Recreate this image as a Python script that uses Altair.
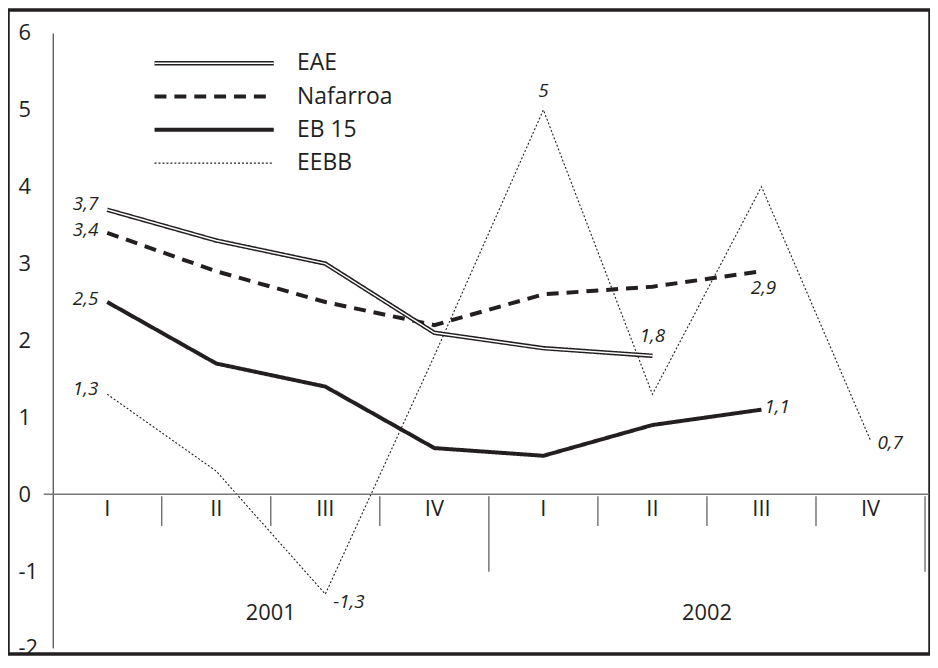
import altair as alt
import pandas as pd

# ---------------- data ----------------
quarters = ["I", "II", "III", "IV", "I", "II", "III", "IV"]
years = ["2001", "2002"]
series_names = ["EAE", "Nafarroa", "EB 15", "EEBB"]
eae = [3.7, 3.3, 3.0, 2.1, 1.9, 1.8, None, None]
nafarroa = [3.4, 2.9, 2.5, 2.2, 2.6, 2.7, 2.9, None]
eb15 = [2.5, 1.7, 1.4, 0.6, 0.5, 0.9, 1.1, None]
eebb = [1.3, 0.3, -1.3, 1.8, 5.0, 1.3, 4.0, 0.7]
y_ticks = [-2, -1, 0, 1, 2, 3, 4, 5, 6]

rows = []
for name, vals in zip(series_names, [eae, nafarroa, eb15, eebb]):
    for i, v in enumerate(vals):
        if v is not None:
            rows.append({"series": name, "q": i, "value": v})
df = pd.DataFrame(rows)

qdf = pd.DataFrame({"q": list(range(len(quarters))), "label": quarters})
bdf = pd.DataFrame({"b": list(range(1, len(quarters) + 1))})
ydf = pd.DataFrame({"k": list(range(len(years))), "year": years})
zdf = pd.DataFrame({"x0": [0], "x1": [len(quarters)]})

# ---------------- style ----------------
FONT = "Open Sans"
INK = "#231f20"
W, H = 928, 648

x_scale = alt.Scale(domain=[0, 8], range=[45, 923], nice=False, zero=False)
y_scale = alt.Scale(domain=[-2, 6], range=[642, 23], nice=False, zero=False)

y_axis = alt.Axis(
    values=y_ticks, offset=-45, ticks=False, tickSize=0, grid=False, title=None,
    domainColor=INK, domainWidth=1, labelFont=FONT, labelFontSize=22,
    labelColor=INK, labelAlign="left", labelPadding=35, labelFlush=False,
    labelOverlap=False,
    labelExpr="replace(format(datum.value, 'd'), '\u2212', '-')",
)

X = alt.X("pos:Q", scale=x_scale, axis=None)
Y = alt.Y("value:Q", scale=y_scale, axis=y_axis)

LEG_X, LEG_Y = 196, 42
sym_path = "M-12,0H12"
LEG_FS = 23

main_legend = alt.Legend(
    orient="none", legendX=LEG_X, legendY=LEG_Y, title=None,
    symbolType=sym_path, symbolSize=100, symbolStrokeColor=INK,
    symbolFillColor="transparent", labelFont=FONT, labelFontSize=LEG_FS,
    labelColor=INK, labelOffset=72, rowPadding=9.5, zindex=0,
)
white_legend = alt.Legend(
    orient="none", legendX=LEG_X, legendY=LEG_Y, title=None,
    symbolType=sym_path, symbolSize=100, symbolStrokeWidth=1.5,
    symbolFillColor="transparent", labelFont=FONT, labelFontSize=LEG_FS,
    labelOpacity=0, labelOffset=72, rowPadding=9.5, zindex=1,
)

dash = alt.StrokeDash(
    "series:N",
    scale=alt.Scale(domain=series_names, range=[[1, 0], [12, 8], [1, 0], [2, 2]]),
    legend=main_legend,
)
width_enc = alt.StrokeWidth(
    "series:N",
    scale=alt.Scale(type="ordinal", domain=series_names, range=[4.5, 4, 4, 1.1]),
    legend=main_legend,
)

base = alt.Chart(df).transform_calculate(pos="datum.q + 0.5")

lines = base.mark_line(color=INK, strokeCap="butt", strokeJoin="miter").encode(
    x=X, y=Y, strokeDash=dash, strokeWidth=width_enc, detail="series:N"
)
eae_inner = base.transform_filter(alt.datum.series == "EAE").mark_line(
    strokeWidth=1.5, strokeCap="butt"
).encode(
    x=X, y=Y,
    stroke=alt.Stroke("series:N", scale=alt.Scale(domain=["EAE"], range=["white"]),
                      legend=white_legend),
)

# zero line
zero_line = alt.Chart(zdf).mark_rule(color="#777777", strokeWidth=1.5, xOffset=-9, x2Offset=4).encode(
    x=alt.X("x0:Q", scale=x_scale, axis=None), x2="x1:Q",
    y=alt.datum(0),
)

# separators
sep = alt.Chart(bdf)
sep_short = sep.transform_filter("datum.b % 4 != 0").mark_rule(
    color="#555555", strokeWidth=1.2, yOffset=2, y2Offset=32
).encode(x=alt.X("b:Q", scale=x_scale, axis=None), y=alt.datum(0), y2=alt.datum(0))
sep_long = sep.transform_filter("datum.b % 4 == 0").mark_rule(
    color="#555555", strokeWidth=1.2, yOffset=2, y2Offset=78
).encode(x=alt.X("b:Q", scale=x_scale, axis=None), y=alt.datum(0), y2=alt.datum(0))

# quarter labels
q_text = alt.Chart(qdf).transform_calculate(pos="datum.q + 0.5").mark_text(
    font=FONT, fontSize=22, color=INK, baseline="middle", dy=15
).encode(x=X, y=alt.datum(0), text="label:N")

# year labels
y_text = alt.Chart(ydf).transform_calculate(pos="datum.k * 4 + 2").mark_text(
    font=FONT, fontSize=22, color=INK, baseline="middle", dy=120
).encode(x=X, y=alt.datum(0), text="year:N")

# value labels
lab_base = base.transform_calculate(
    lab="replace(replace(format(datum.value, '.1~f'), '.', ','), '\u2212', '-')"
)


def val_label(name, q, align, dx, dy):
    return lab_base.transform_filter(
        (alt.datum.series == name) & (alt.datum.q == q)
    ).mark_text(
        font=FONT, fontSize=19, fontStyle="italic", color=INK,
        align=align, baseline="middle", dx=dx, dy=dy
    ).encode(x=X, y=Y, text="lab:N")


labels = [
    val_label("EAE", 0, "right", -9, -6),
    val_label("Nafarroa", 0, "right", -9, -3),
    val_label("EB 15", 0, "right", -9, -3),
    val_label("EEBB", 0, "right", -9, -5),
    val_label("EEBB", 2, "left", 8, 8),
    val_label("EEBB", 4, "center", 0, -19),
    val_label("EAE", 5, "center", 0, -20),
    val_label("Nafarroa", 6, "center", 2, 17),
    val_label("EB 15", 6, "left", 3, -3),
    val_label("EEBB", 7, "left", 7, 3),
]

chart = alt.layer(
    lines, eae_inner,
    zero_line, sep_short, sep_long, q_text, y_text,
    *labels,
).properties(
    width=W, height=H, padding=0,
).configure_view(
    stroke=INK, strokeWidth=3.5,
)

chart.save("out.html", embed_options={"renderer": "svg", "actions": False})
